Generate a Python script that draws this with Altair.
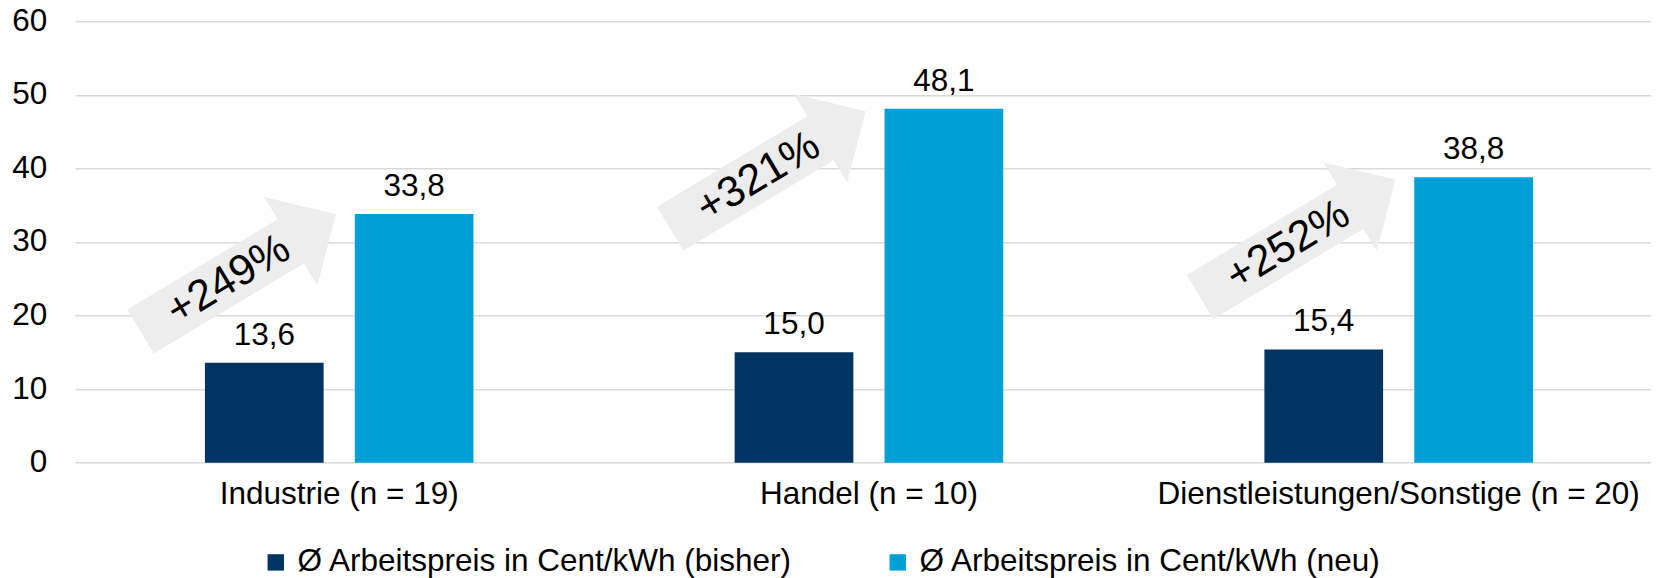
import altair as alt
import pandas as pd

# ---- data ----
categories = ["Industrie (n = 19)", "Handel (n = 10)", "Dienstleistungen/Sonstige (n = 20)"]
series = ["Ø Arbeitspreis in Cent/kWh (bisher)", "Ø Arbeitspreis in Cent/kWh (neu)"]
bisher = [13.6, 15.0, 15.4]
neu = [33.8, 48.1, 38.8]
increase_labels = ["+249%", "+321%", "+252%"]
arrow_level = [25.8, 39.8, 30.5]   # vertical centre of the grey arrows (axis units)
y_ticks = [0, 10, 20, 30, 40, 50, 60]
colors = ["#003462", "#00a0d6"]

FONT = "Liberation Sans"
FS = 31.5

rows = []
for c, b, n in zip(categories, bisher, neu):
    rows.append({"cat": c, "series": series[0], "value": b})
    rows.append({"cat": c, "series": series[1], "value": n})
df = pd.DataFrame(rows)
df["label"] = df["value"].map(lambda v: f"{v:.1f}".replace(".", ","))

arrows = pd.DataFrame({"cat": categories, "level": arrow_level, "pct": increase_labels})

x_scale = alt.Scale(paddingInner=0.493, paddingOuter=0.234, align=0.524)
x_axis = alt.Axis(title=None, labelAngle=0, labelFontSize=FS, labelFont=FONT, labelColor="black",
                  labelPadding=16, ticks=False, tickSize=0, domain=False, grid=False, labelLimit=1000)
y_scale = alt.Scale(domain=[0, 60], nice=False)
y_axis = alt.Axis(title=None, values=y_ticks, labelFontSize=FS, labelFont=FONT, labelColor="black",
                  labelPadding=28.3, ticks=False, tickSize=0, domain=False, grid=True,
                  gridColor="#d9d9d9", gridWidth=1.4)

X = alt.X("cat:N", sort=categories, scale=x_scale, axis=x_axis)

arrow_path = "M -1 -0.225 L 0.538 -0.225 L 0.538 -0.4535 L 1 0 L 0.538 0.4535 L 0.538 0.225 L -1 0.225 Z"

arrow_layer = alt.Chart(arrows).mark_point(
    shape=arrow_path, filled=True, size=51984, angle=329, color="#ededed",
    opacity=1, strokeWidth=0, xOffset=-101
).encode(x=X, y=alt.Y("level:Q", scale=y_scale, axis=y_axis))

pct_layer = alt.Chart(arrows).mark_text(
    angle=329, fontSize=43, font=FONT, color="black", align="center", baseline="alphabetic",
    dx=-12, dy=14, xOffset=-101
).encode(x=X, y=alt.Y("level:Q", scale=y_scale, axis=y_axis), text="pct:N")

color = alt.Color("series:N", sort=series, scale=alt.Scale(domain=series, range=colors),
                  legend=alt.Legend(orient="none", legendX=185, legendY=525, direction="horizontal",
                                    title=None, symbolType="square", symbolSize=269,
                                    symbolStrokeWidth=0, labelFontSize=FS, labelFont=FONT,
                                    labelColor="black", labelOffset=6, columnPadding=89,
                                    padding=0, labelLimit=1000))

xoff = alt.XOffset("series:N", sort=series, scale=alt.Scale(paddingInner=0.208, paddingOuter=0))

bars = alt.Chart(df).mark_bar().encode(
    x=X, xOffset=xoff, y=alt.Y("value:Q", scale=y_scale, axis=y_axis), color=color
)

values = alt.Chart(df).mark_text(
    fontSize=FS, font=FONT, color="black", baseline="alphabetic", align="center", dy=-18
).encode(x=X, xOffset=xoff, y=alt.Y("value:Q", scale=y_scale, axis=y_axis), text="label:N")

chart = alt.layer(arrow_layer, pct_layer, bars, values).properties(
    width=1576, height=441.4,
    autosize=alt.AutoSizeParams(type="none"),
    padding={"left": 67, "top": 13.3, "right": 0, "bottom": 115},
    background="white",
).configure_view(stroke=None)

chart.save("out.html", embed_options={"renderer": "svg", "actions": False})
